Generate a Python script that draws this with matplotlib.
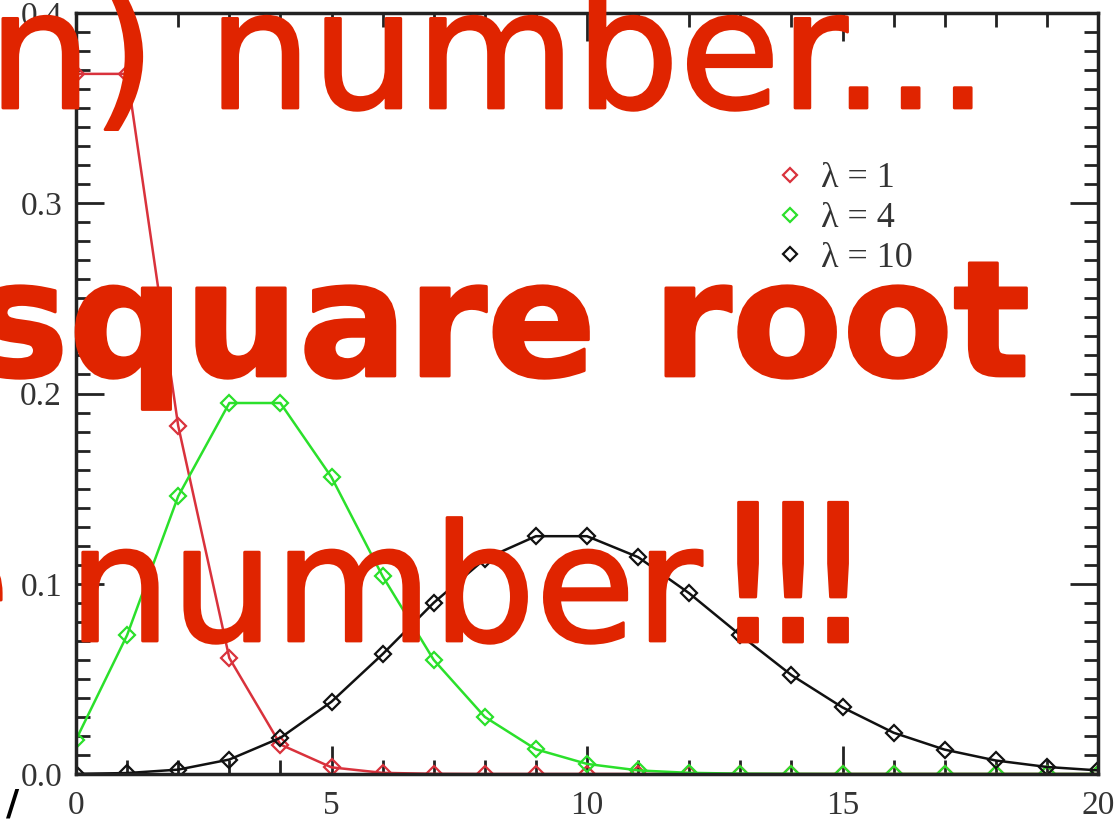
import matplotlib
matplotlib.use("Agg")
import matplotlib.pyplot as plt
import matplotlib.patheffects as pe
from matplotlib.ticker import MultipleLocator

# ---- data ----
k = list(range(21))
lam1 = [0.368, 0.368, 0.183, 0.061, 0.0155, 0.0035, 0.0006, 0.0001, 0, 0, 0,
        0, 0, 0, 0, 0, 0, 0, 0, 0, 0]
lam4 = [0.018, 0.073, 0.146, 0.195, 0.195, 0.156, 0.104, 0.060, 0.030, 0.013,
        0.0053, 0.0019, 0.0006, 0.0002, 0.0001, 0, 0, 0, 0, 0, 0]
lam10 = [0.00005, 0.0005, 0.0023, 0.0076, 0.019, 0.038, 0.063, 0.090, 0.113,
         0.125, 0.125, 0.114, 0.095, 0.073, 0.052, 0.035, 0.0217, 0.0128,
         0.0071, 0.0037, 0.0019]
series_labels = ["λ = 1", "λ = 4", "λ = 10"]
series_colors = ["#d9323c", "#2be02b", "#111111"]
x_ticks = [0, 5, 10, 15, 20]
y_ticks = [0.0, 0.1, 0.2, 0.3, 0.4]

overlay_line1 = "n) number..."
overlay_line2 = "square root"
overlay_line3 = "number"
overlay_bangs = ["!", "!", "!"]
overlay_prefix = "of the"

W, H = 1116, 825
fig = plt.figure(figsize=(W / 100, H / 100), dpi=100)
fig.patch.set_facecolor("white")

ax = fig.add_axes([76 / W, 1 - 774 / H, (1098 - 76) / W, (774 - 13) / H])
serif = "Liberation Serif"

for ys, lab, col in zip([lam1, lam4, lam10], series_labels, series_colors):
    ax.plot(k, ys, color=col, lw=1.8, marker="D", ms=8, mfc="none",
            mec=col, mew=1.6, label=lab)

ax.set_xlim(0, 20)
ax.set_ylim(0, 0.4)
ax.xaxis.set_minor_locator(MultipleLocator(1))
ax.yaxis.set_minor_locator(MultipleLocator(0.01))
ax.set_xticks(x_ticks)
ax.set_xticklabels([str(v) for v in x_ticks], fontfamily=serif, color="#333333")
ax.set_yticks(y_ticks)
ax.set_yticklabels([f"{v:.1f}" for v in y_ticks], fontfamily=serif, color="#333333")
ax.tick_params(which="both", direction="in", top=True, right=True,
               width=2, color="#222222", labelsize=24)
ax.tick_params(which="major", length=20)
ax.tick_params(which="minor", length=10)
ax.tick_params(axis="x", pad=12)
ax.tick_params(axis="y", pad=10)
for s in ax.spines.values():
    s.set_linewidth(2.5)
    s.set_color("#222222")

leg = ax.legend(loc="upper left", bbox_to_anchor=(0.688, 0.804), frameon=False,
                borderpad=0, borderaxespad=0,
                handlelength=0.6, handletextpad=0.55, labelspacing=0.18,
                prop={"family": serif, "size": 26})
for h in leg.legend_handles:
    h.set_linestyle("none")
    h.set_markersize(7)
for t in leg.get_texts():
    t.set_color("#333333")

# ---- overlay slide text ----
red = "#e02400"
fx = lambda px: px / W
fy = lambda py: 1 - py / H
stroke = [pe.withStroke(linewidth=2, foreground=red,
                        capstyle="round", joinstyle="round")]
ov_kw = dict(color=red, fontfamily="DejaVu Sans", path_effects=stroke,
             transform=fig.transFigure, va="baseline", zorder=10)
fig.text(fx(-12), fy(108), overlay_line1, ha="left", fontsize=118, **ov_kw)
fig.text(fx(1030), fy(376), overlay_line2, ha="right", fontsize=116,
         fontweight="bold", **ov_kw)
fig.text(fx(68), fy(641), overlay_line3, ha="left", fontsize=117, **ov_kw)
for cx, b in zip([748, 793, 838], overlay_bangs):
    fig.text(fx(cx), fy(642), b, ha="center", fontsize=138, **ov_kw)
fig.text(fx(10), fy(641), overlay_prefix, ha="right", fontsize=117, **ov_kw)

fig.text(fx(6), fy(815), "/", fontsize=26, color="black", fontweight="bold",
         fontfamily="DejaVu Sans", transform=fig.transFigure)

fig.savefig("out.png", dpi=100)
